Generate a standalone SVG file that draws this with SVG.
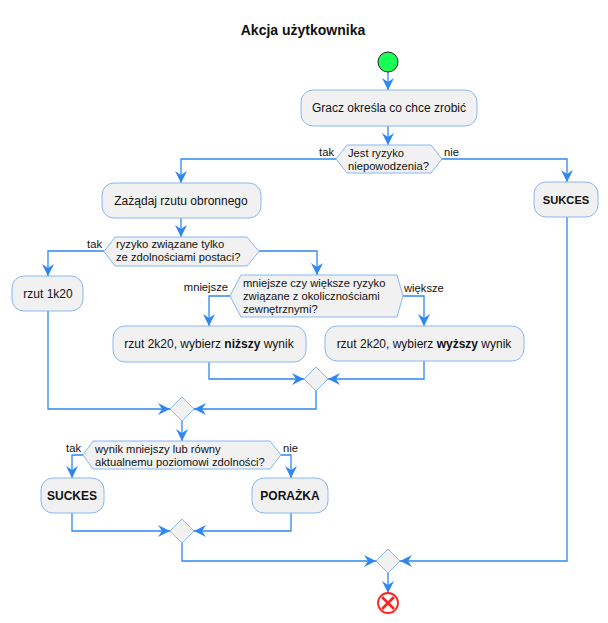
<svg xmlns="http://www.w3.org/2000/svg" width="608" height="623" viewBox="0 0 608 623">
<defs>
<marker id="ah" viewBox="0 0 12 12" refX="12" refY="6" markerWidth="12" markerHeight="12" markerUnits="userSpaceOnUse" orient="auto">
<path d="M0,0 L12,6 L0,12 L4,6 Z" fill="#2F88F0"/>
</marker>
<style>
.box{fill:#F1F1F1;stroke:#86B8F2;stroke-width:1}
.dia{fill:#F1F1F1;stroke:#86B8F2;stroke-width:1}
.ln{fill:none;stroke:#2F88F0;stroke-width:1.3}
.ar{marker-end:url(#ah)}
text{font-family:"Liberation Sans",Arial,sans-serif;font-size:11.2px;fill:#111}
.c{text-anchor:middle}
.bx{font-size:12px}
.b{font-weight:bold}
.t{font-size:14px;font-weight:bold}
</style>
</defs>
<rect width="608" height="623" fill="#fff"/>
<text class="t c" x="303" y="35">Akcja użytkownika</text>

<g id="connectors">
<path class="ln ar" d="M388,72 L388,90"/>
<path class="ln ar" d="M388,126 L388,145"/>
<path class="ln ar" d="M336,159 L181,159 L181,183"/>
<path class="ln ar" d="M442,159 L567,159 L567,182"/>
<path class="ln ar" d="M567,217 L567,561 L400,561"/>
<path class="ln ar" d="M181,218 L181,237"/>
<path class="ln ar" d="M104,251 L48,251 L48,276"/>
<path class="ln ar" d="M259,251 L317,251 L317,275"/>
<path class="ln ar" d="M230,296 L209,296 L209,326"/>
<path class="ln ar" d="M403,296 L424,296 L424,326"/>
<path class="ln ar" d="M209,362 L209,379 L304,379"/>
<path class="ln ar" d="M424,361 L424,379 L328,379"/>
<path class="ln ar" d="M316,391 L316,409 L194,409"/>
<path class="ln ar" d="M48,311 L48,409 L170,409"/>
<path class="ln ar" d="M182,421 L182,441"/>
<path class="ln ar" d="M83,455 L72,455 L72,478"/>
<path class="ln ar" d="M281,455 L291,455 L291,478"/>
<path class="ln ar" d="M72,513 L72,531 L170,531"/>
<path class="ln ar" d="M291,513 L291,531 L194,531"/>
<path class="ln ar" d="M182,543 L182,561 L376,561"/>
<path class="ln ar" d="M388,573 L388,593"/>
</g>

<g id="start"><circle cx="388" cy="62" r="10" fill="#19FF55" stroke="#222" stroke-width="1"/></g>

<g id="a1"><rect class="box" x="301" y="90" width="176" height="36" rx="12"/><text class="c bx" x="389" y="112">Gracz określa co chce zrobić</text></g>

<g id="d1"><polygon class="dia" points="336,159 347,145 431,145 442,159 431,173 347,173"/>
<text x="348" y="157">Jest ryzyko</text><text x="348" y="170">niepowodzenia?</text>
<text x="334" y="156" text-anchor="end">tak</text><text x="444" y="156">nie</text></g>

<g id="sukces"><rect class="box" x="534" y="182" width="64" height="35" rx="12"/><text class="c b" x="566" y="204">SUKCES</text></g>

<g id="a2"><rect class="box" x="102" y="183" width="159" height="35" rx="12"/><text class="c bx" x="181" y="205">Zażądaj rzutu obronnego</text></g>

<g id="d2"><polygon class="dia" points="104,251.5 115,237 247,237 259,251.5 247,266 115,266"/>
<text x="116" y="248">ryzyko związane tylko</text><text x="116" y="261"> ze zdolnościami postaci?</text>
<text x="102" y="248" text-anchor="end">tak</text></g>

<g id="r1k20"><rect class="box" x="12" y="276" width="71" height="35" rx="12"/><text class="c bx" x="48" y="298">rzut 1k20</text></g>

<g id="d3"><polygon class="dia" points="230,296 241,275 397,275 403,296 397,317 241,317"/>
<text x="243" y="287">mniejsze czy większe ryzyko</text><text x="243" y="300">związane z okolicznościami</text><text x="243" y="313">zewnętrznymi?</text>
<text x="228" y="291" text-anchor="end">mniejsze</text><text x="404" y="292">większe</text></g>

<g id="niz"><rect class="box" x="113" y="326" width="193" height="36" rx="12"/><text class="c bx" x="209" y="348">rzut 2k20, wybierz <tspan class="b">niższy</tspan> wynik</text></g>

<g id="wyz"><rect class="box" x="325" y="326" width="199" height="35" rx="12"/><text class="c bx" x="424" y="348">rzut 2k20, wybierz <tspan class="b">wyższy</tspan> wynik</text></g>

<g id="m1"><polygon class="dia" points="316,367 328,379 316,391 304,379"/></g>
<g id="m2"><polygon class="dia" points="182,397 194,409 182,421 170,409"/></g>

<g id="d4"><polygon class="dia" points="83,455 93,441 270,441 281,455 270,469 93,469"/>
<text x="95" y="453">wynik mniejszy lub równy</text><text x="95" y="466">aktualnemu poziomowi zdolności?</text>
<text x="81" y="452" text-anchor="end">tak</text><text x="283" y="452">nie</text></g>

<g id="suckes"><rect class="box" x="41" y="478" width="63" height="35" rx="12"/><text class="c b bx" x="72" y="500">SUCKES</text></g>
<g id="porazka"><rect class="box" x="252" y="478" width="76" height="35" rx="12"/><text class="c b bx" x="290" y="500">PORAŻKA</text></g>

<g id="m3"><polygon class="dia" points="182,519 194,531 182,543 170,531"/></g>
<g id="m4"><polygon class="dia" points="388,549 400,561 388,573 376,561"/></g>

<g id="end"><circle cx="388" cy="603" r="10" fill="#fff" stroke="#FF2020" stroke-width="1.8"/>
<path d="M382,597 L394,609 M394,597 L382,609" stroke="#FF2020" stroke-width="2.6"/></g>
</svg>
